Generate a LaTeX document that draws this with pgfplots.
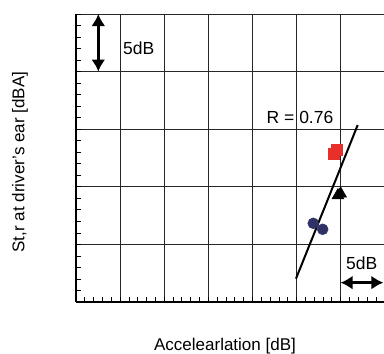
\documentclass[border=0pt]{standalone}
\usepackage{pgfplots}
\pgfplotsset{compat=1.18}
\usepackage{fontspec}
\setmainfont{Liberation Sans}
\usetikzlibrary{arrows.meta,calc}
\definecolor{navy}{HTML}{2E3266}
\definecolor{redsq}{HTML}{E8302A}
\begin{document}
\begin{tikzpicture}
\begin{axis}[
  scale only axis, width=308.7pt, height=288pt,
  xmin=0, xmax=35, ymin=0, ymax=25,
  axis x line=bottom, axis y line=left,
  axis line style={-, line width=1.3pt, black},
  xtick={0,5,...,35}, ytick={0,5,...,25},
  minor tick num=4,
  xticklabels={}, yticklabels={},
  tick align=inside,
  major tick length=5pt, minor tick length=5pt,
  tick style={black, line width=0.7pt},
  grid=major, major grid style={black!85, line width=0.9pt},
  clip=false,
  label style={font=\fontsize{17}{20}\selectfont},
  xlabel={Accelearlation [dB]},
  xlabel style={at={(axis description cs:0.4827,0)}, anchor=center, yshift=-44pt},
  ylabel={St,r at driver's ear [dBA]},
  ylabel style={at={(axis description cs:0,0.486)}, anchor=center, yshift=56pt},
]
\addplot[only marks, mark=*, mark size=5.5pt, color=navy] coordinates {(26.9,6.83) (27.97,6.31)};
\addplot[only marks, mark=square*, mark size=5.5pt, color=redsq] coordinates {(29.17,12.85) (29.56,13.26)};
\addplot[only marks, mark=triangle*, mark size=7pt, color=black] coordinates {(29.7,9.25) (30.0,9.4)};
\addplot[black, line width=2pt] coordinates {(24.94,2.02) (31.94,15.36)};
\draw[line width=3pt, {Latex[length=12pt,width=14pt]}-{Latex[length=12pt,width=14pt]}] (axis cs:2.53,20) -- (axis cs:2.53,25);
\draw[line width=3pt, {Latex[length=12pt,width=14pt]}-{Latex[length=12pt,width=14pt]}] (axis cs:30,1.68) -- (axis cs:34.85,1.68);
\node[anchor=west, inner sep=0pt, font=\fontsize{17.5}{20}\selectfont] at (axis cs:5.33,22.05) {5dB};
\node[inner sep=0pt, font=\fontsize{17.5}{20}\selectfont] at (axis cs:25.4,16.0) {R = 0.76};
\node[inner sep=0pt, font=\fontsize{17.5}{20}\selectfont] at (axis cs:32.4,3.39) {5dB};
\coordinate (sw) at (rel axis cs:0,0);
\end{axis}
\pgfresetboundingbox
\path[use as bounding box] ($(sw)+(-76pt,-52pt)$) rectangle ($(sw)+(308pt,302pt)$);
\end{tikzpicture}
\end{document}
